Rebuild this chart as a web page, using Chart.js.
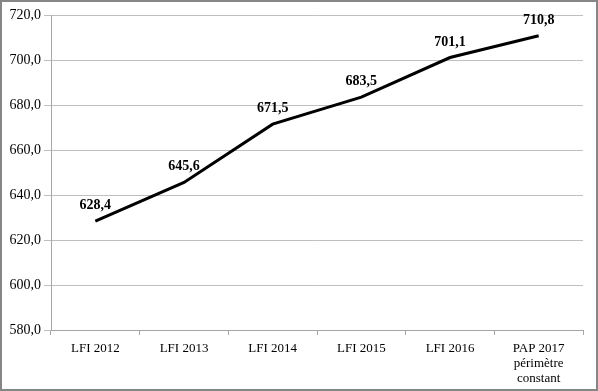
<!DOCTYPE html>
<html lang="fr">
<head>
  <meta charset="UTF-8">
  <title>LFI 2012 - PAP 2017</title>
  <style>
    html, body { margin: 0; padding: 0; background: #fff; }
    .cadre { position: relative; width: 598px; height: 391px; box-sizing: border-box; border: 2px solid #868686; background: #fff; }
    .cadre canvas { display: block; }
  </style>
</head>
<body>
  <div class="cadre">
    <canvas id="graphique" width="594" height="387"></canvas>
  </div>
  <script src="https://cdn.jsdelivr.net/npm/chart.js"></script>
  <script>
    // données
    const categories = ['LFI 2012', 'LFI 2013', 'LFI 2014', 'LFI 2015', 'LFI 2016', ['PAP 2017', 'périmètre', 'constant']];
    const valeurs = [628.4, 645.6, 671.5, 683.5, 701.1, 710.8];
    const yMin = 580, yMax = 720, yPas = 20;

    const fmt = v => v.toFixed(1).replace('.', ',');
    const police = 'Liberation Serif, Times New Roman, serif';

    // étiquettes de valeur au-dessus des points
    const etiquettes = {
      id: 'etiquettes',
      afterDatasetsDraw(chart) {
        const ctx = chart.ctx;
        const meta = chart.getDatasetMeta(0);
        ctx.save();
        ctx.font = 'bold 14px ' + police;
        ctx.fillStyle = '#000';
        ctx.textAlign = 'center';
        ctx.textBaseline = 'alphabetic';
        meta.data.forEach((pt, i) => {
          ctx.fillText(fmt(valeurs[i]), pt.x, pt.y - 12);
        });
        ctx.restore();
      }
    };

    new Chart(document.getElementById('graphique'), {
      type: 'line',
      data: {
        labels: categories,
        datasets: [{
          data: valeurs,
          borderColor: '#000',
          borderWidth: 3,
          pointRadius: 0,
          tension: 0,
          fill: false
        }]
      },
      options: {
        responsive: false,
        animation: false,
        layout: { padding: { left: 0, right: 13, top: 13, bottom: 0 } },
        plugins: { legend: { display: false }, tooltip: { enabled: false } },
        scales: {
          x: {
            offset: true,
            afterFit: s => { s.height = 59; },
            grid: { offset: true, drawOnChartArea: false, color: '#a6a6a6', tickLength: 5 },
            border: { color: '#a6a6a6' },
            ticks: { color: '#000', font: { family: police, size: 13, lineHeight: 1.15 }, padding: 6, maxRotation: 0, autoSkip: false }
          },
          y: {
            min: yMin,
            max: yMax,
            afterFit: s => { s.width = 49; },
            grid: { color: '#bfbfbf', tickLength: 7 },
            border: { color: '#a6a6a6' },
            ticks: { stepSize: yPas, color: '#000', font: { family: police, size: 14 }, padding: 3, callback: v => fmt(v) }
          }
        }
      },
      plugins: [etiquettes]
    });
  </script>
</body>
</html>
